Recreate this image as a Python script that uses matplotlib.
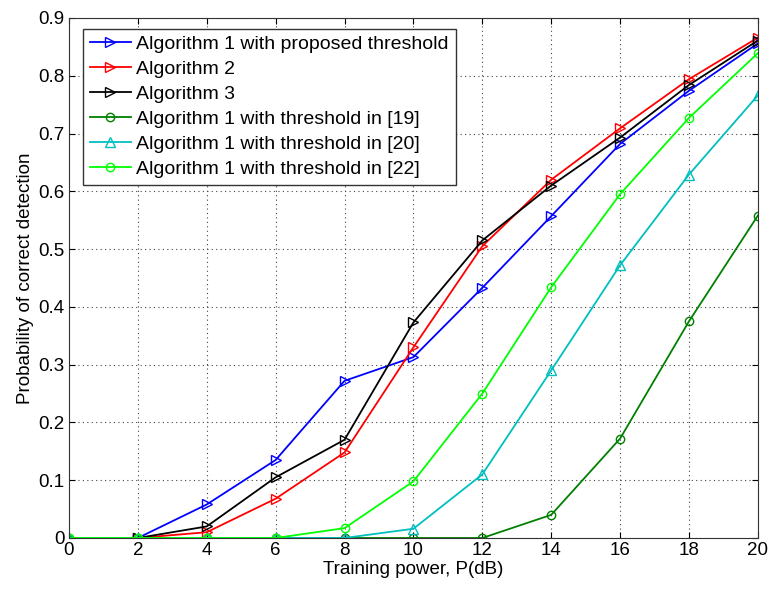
import numpy as np
import matplotlib
matplotlib.use("Agg")
import matplotlib.pyplot as plt

plt.rcParams['font.family'] = ['Liberation Sans', 'DejaVu Sans']

power = [0, 2, 4, 6, 8, 10, 12, 14, 16, 18, 20]

alg1_prop = [0, 0, 0.058, 0.135, 0.272, 0.313, 0.433, 0.557, 0.682, 0.774, 0.856]
alg2 = [0, 0, 0.01, 0.068, 0.148, 0.33, 0.505, 0.62, 0.709, 0.794, 0.866]
alg3 = [0, 0, 0.02, 0.105, 0.17, 0.373, 0.515, 0.61, 0.693, 0.784, 0.861]
alg1_19 = [0, 0, 0, 0, 0, 0, 0, 0.04, 0.172, 0.375, 0.558]
alg1_20 = [0, 0, 0, 0, 0, 0.016, 0.11, 0.29, 0.472, 0.629, 0.766]
alg1_22 = [0, 0, 0, 0, 0.017, 0.098, 0.25, 0.434, 0.595, 0.727, 0.839]

labels = ["Algorithm 1 with proposed threshold",
          "Algorithm 2",
          "Algorithm 3",
          "Algorithm 1 with threshold in [19]",
          "Algorithm 1 with threshold in [20]",
          "Algorithm 1 with threshold in [22]"]

fig = plt.figure(figsize=(7.68, 5.91), dpi=100)
ax = fig.add_axes([0.0898, 0.0897, 0.897, 0.8799])

ax.plot(power, alg1_prop, color="blue", marker=">", mfc="none", ms=7, lw=1.3, label=labels[0])
ax.plot(power, alg2, color="red", marker=">", mfc="none", ms=7, lw=1.3, label=labels[1])
ax.plot(power, alg3, color="black", marker=">", mfc="none", ms=7, lw=1.3, label=labels[2])
ax.plot(power, alg1_19, color="#008000", marker="o", mfc="none", ms=6, lw=1.3, label=labels[3])
ax.plot(power, alg1_20, color="#00bfbf", marker="^", mfc="none", ms=7, lw=1.3, label=labels[4])
ax.plot(power, alg1_22, color="#00ff00", marker="o", mfc="none", ms=6, lw=1.3, label=labels[5])

ax.set_xlim(0, 20)
ax.set_ylim(0, 0.9)
ax.set_xticks(np.arange(0, 21, 2))
ax.set_yticks(np.arange(0, 0.91, 0.1))
ax.set_yticklabels(["0", "0.1", "0.2", "0.3", "0.4", "0.5", "0.6", "0.7", "0.8", "0.9"])
ax.tick_params(labelsize=13.5, direction="in", length=4, top=True, right=True, pad=3)
ax.grid(True, linestyle=(0, (1, 3)), color="#444444", lw=0.8)
for s in ax.spines.values():
    s.set_color("#333333")

ax.set_xlabel("Training power, P(dB)", fontsize=13.5, labelpad=1)
ax.set_ylabel("Probability of correct detection", fontsize=13.5, labelpad=3)

leg = ax.legend(loc="upper left", bbox_to_anchor=(0.02, 0.979), borderaxespad=0,
                fontsize=14, fancybox=False, framealpha=1, edgecolor="#333333",
                handlelength=2.15, labelspacing=0.38, borderpad=0.35, handletextpad=0.25)
leg.get_frame().set_linewidth(1.0)

fig.savefig("out.png", dpi=100)
